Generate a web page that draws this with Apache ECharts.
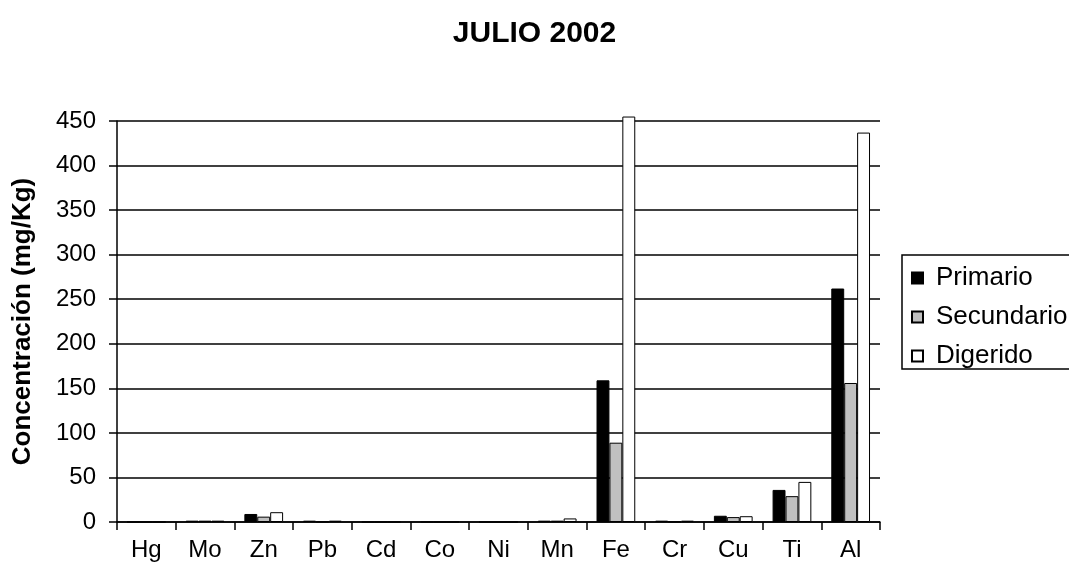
<!DOCTYPE html>
<html>
<head>
<meta charset="utf-8">
<title>JULIO 2002</title>
<script src="https://cdn.jsdelivr.net/npm/echarts@6/dist/echarts.min.js"></script>
<style>
  html, body { margin: 0; padding: 0; background: #fff; }
  #chart { width: 1069px; height: 579px; }
</style>
</head>
<body>
<div id="chart"></div>
<script>
// categorias (elementos)
const elementos = ['Hg', 'Mo', 'Zn', 'Pb', 'Cd', 'Co', 'Ni', 'Mn', 'Fe', 'Cr', 'Cu', 'Ti', 'Al'];

// concentraciones en mg/Kg
const primario   = [0, 1.5, 9, 1.5, 0, 0, 0, 1.5, 159, 1.5, 7, 36, 262];
const secundario = [0, 1.5, 6, 0.3, 0, 0, 0, 1.5, 89, 0.3, 5.5, 29, 156];
const digerido   = [0, 1.5, 11, 1.5, 0, 0, 0, 4, 455, 1.5, 6.5, 45, 437];

const yTicks = [0, 50, 100, 150, 200, 250, 300, 350, 400, 450];

const fuente = 'Liberation Sans, Arial, sans-serif';

const chart = echarts.init(document.getElementById('chart'));

function serie(nombre, datos, color) {
  return {
    name: nombre,
    type: 'bar',
    data: datos,
    barGap: '0%',
    barCategoryGap: '34%',
    clip: false,
    itemStyle: { color: color, borderColor: '#000', borderWidth: 1 },
    emphasis: { disabled: true }
  };
}

chart.setOption({
  animation: false,
  title: {
    text: 'JULIO 2002',
    left: 'center',
    top: 14,
    textStyle: { fontFamily: fuente, fontSize: 30, fontWeight: 'bold', color: '#000' }
  },
  legend: {
    orient: 'vertical',
    left: 902,
    top: 255,
    padding: [10, 30, 0, 9],
    itemGap: 13,
    itemWidth: 11,
    itemHeight: 11,
    borderColor: '#000',
    borderWidth: 1.5,
    borderRadius: 0,
    icon: 'rect',
    textStyle: { fontFamily: fuente, fontSize: 26, lineHeight: 26, color: '#000', padding: [0, 0, 0, 8] },
    data: ['Primario', 'Secundario', 'Digerido']
  },
  grid: { left: 117, right: 189, top: 121, bottom: 57, containLabel: false },
  xAxis: {
    type: 'category',
    data: elementos,
    axisLine: { lineStyle: { color: '#000', width: 1.5 } },
    axisTick: { show: true, length: 8, lineStyle: { color: '#000', width: 1.5 } },
    axisLabel: { fontFamily: fuente, fontSize: 24, color: '#000', margin: 16 }
  },
  yAxis: {
    type: 'value',
    min: yTicks[0],
    max: yTicks[yTicks.length - 1],
    interval: 50,
    name: 'Concentración (mg/Kg)',
    nameLocation: 'middle',
    nameGap: 81,
    nameTextStyle: { fontFamily: fuente, fontSize: 26, fontWeight: 'bold', color: '#000' },
    axisLine: { show: true, lineStyle: { color: '#000', width: 1.5 } },
    axisTick: { show: true, length: 8, lineStyle: { color: '#000', width: 1.5 } },
    axisLabel: { fontFamily: fuente, fontSize: 24, color: '#000', margin: 21 },
    splitLine: { lineStyle: { color: '#000', width: 1.5 } }
  },
  series: [
    serie('Primario', primario, '#000000'),
    serie('Secundario', secundario, '#c0c0c0'),
    serie('Digerido', digerido, '#ffffff')
  ]
});
</script>
</body>
</html>
